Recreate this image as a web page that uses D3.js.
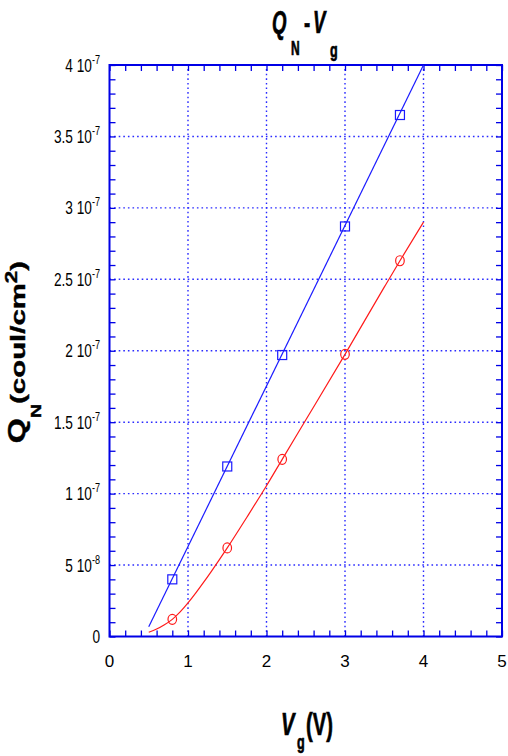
<!DOCTYPE html>
<html>
<head>
<meta charset="utf-8">
<script src="https://cdn.jsdelivr.net/npm/d3@7"></script>
<style>
  body { margin: 0; background: #fff; }
  svg { display: block; }
</style>
</head>
<body>
<script>
// Gate voltage of the measured points (V)
const vg = [0.8, 1.5, 2.2, 3.0, 3.7];
// Inversion charge, measured (coul/cm^2)
const qBlue = [4.0e-8, 1.19e-7, 1.97e-7, 2.87e-7, 3.65e-7];
const qRed  = [1.2e-8, 6.2e-8, 1.24e-7, 1.975e-7, 2.63e-7];

// Model curves
const blueFitV = [0.5, 4.0];
const blueFitQ = [0.68e-8, 4.0e-7];
const redFitV = [0.5, 0.6, 0.7, 0.8, 0.9, 1.0, 1.1, 1.2, 1.3, 1.4, 1.5, 1.75, 2.0, 2.2, 2.5, 3.0, 3.5, 3.7, 4.0];
const redFitQ = [0.030e-7, 0.052e-7, 0.082e-7, 0.120e-7, 0.172e-7, 0.235e-7, 0.305e-7, 0.380e-7, 0.458e-7,
                 0.538e-7, 0.620e-7, 0.835e-7, 1.055e-7, 1.240e-7, 1.515e-7, 1.975e-7, 2.445e-7, 2.630e-7, 2.900e-7];

// Axis ticks and labels
const xMajor = [0, 1, 2, 3, 4, 5];
const xTickLabels = ["0", "1", "2", "3", "4", "5"];
const yMajor = [0, 5e-8, 1e-7, 1.5e-7, 2e-7, 2.5e-7, 3e-7, 3.5e-7, 4e-7];
const yTickMantissa = ["0", "5 10", "1 10", "1.5 10", "2 10", "2.5 10", "3 10", "3.5 10", "4 10"];
const yTickExponent = ["", "-8", "-7", "-7", "-7", "-7", "-7", "-7", "-7"];

const W = 508, H = 756;
const AXIS = "#0000e6";
const FONT = "'Liberation Sans', Arial, Helvetica, sans-serif";

const svg = d3.select("body").append("svg")
  .attr("width", W).attr("height", H)
  .style("font-family", FONT);

const x = d3.scaleLinear().domain([0, 5]).range([109.5, 502]);
const y = d3.scaleLinear().domain([0, 4e-7]).range([636.5, 65]);

const xMinor = d3.range(0, 5.0001, 0.2);
const yMinor = d3.range(0, 40.001, 1).map(d => d * 1e-8);

// dotted grid at the major ticks
const grid = svg.append("g")
  .attr("stroke", "#2a2aff").attr("stroke-width", 1.4)
  .attr("stroke-dasharray", "1.6,3");
grid.selectAll("line.gx").data(xMajor.slice(1, -1)).join("line")
  .attr("x1", d => x(d)).attr("x2", d => x(d))
  .attr("y1", y(0)).attr("y2", y(4e-7));
grid.selectAll("line.gy").data(yMajor.slice(1, -1)).join("line")
  .attr("x1", x(0)).attr("x2", x(5))
  .attr("y1", d => y(d)).attr("y2", d => y(d));

// inward ticks on all four sides
function styleAxis(g) {
  g.select(".domain").remove();
  g.selectAll(".tick line").attr("stroke", AXIS).attr("stroke-width", 1.3);
  g.selectAll(".tick text").remove();
}
svg.append("g").attr("transform", `translate(0,${y(0)})`)
  .call(d3.axisBottom(x).tickValues(xMinor).tickSize(-6)).call(styleAxis);
svg.append("g").attr("transform", `translate(0,${y(4e-7)})`)
  .call(d3.axisTop(x).tickValues(xMinor).tickSize(-6)).call(styleAxis);
svg.append("g").attr("transform", `translate(${x(0)},0)`)
  .call(d3.axisLeft(y).tickValues(yMinor).tickSize(-6)).call(styleAxis);
svg.append("g").attr("transform", `translate(${x(5)},0)`)
  .call(d3.axisRight(y).tickValues(yMinor).tickSize(-6)).call(styleAxis);

// frame
svg.append("rect")
  .attr("x", x(0)).attr("y", y(4e-7))
  .attr("width", x(5) - x(0)).attr("height", y(0) - y(4e-7))
  .attr("fill", "none").attr("stroke", AXIS).attr("stroke-width", 2);

// curves
const line = d3.line().x(d => x(d[0])).y(d => y(d[1]));
svg.append("path")
  .datum(blueFitV.map((v, i) => [v, blueFitQ[i]]))
  .attr("d", line).attr("fill", "none").attr("stroke", "#1a1aff").attr("stroke-width", 1.2);
svg.append("path")
  .datum(redFitV.map((v, i) => [v, redFitQ[i]]))
  .attr("d", line.curve(d3.curveMonotoneX)).attr("fill", "none").attr("stroke", "#ff1a1a").attr("stroke-width", 1.2);

// markers
svg.selectAll("rect.sq").data(vg).join("rect").attr("class", "sq")
  .attr("x", (d) => x(d) - 4.5).attr("y", (d, i) => y(qBlue[i]) - 4.5)
  .attr("width", 9).attr("height", 9)
  .attr("fill", "none").attr("stroke", "#1a1aff").attr("stroke-width", 1.2);
svg.selectAll("ellipse.ci").data(vg).join("ellipse").attr("class", "ci")
  .attr("cx", d => x(d)).attr("cy", (d, i) => y(qRed[i]))
  .attr("rx", 4.3).attr("ry", 5)
  .attr("fill", "none").attr("stroke", "#ff1a1a").attr("stroke-width", 1.2);

// x tick labels
svg.selectAll("text.xl").data(xMajor).join("text")
  .attr("x", d => x(d)).attr("y", 667)
  .attr("text-anchor", "middle").attr("font-size", 17)
  .text((d, i) => xTickLabels[i]);

// y tick labels, condensed, with exponent
const yl = svg.selectAll("g.yl").data(yMajor).join("g")
  .attr("transform", d => `translate(100,${y(d) + 6.5}) scale(0.76,1)`);
const ylt = yl.append("text").attr("text-anchor", "end").attr("font-size", 18);
ylt.append("tspan").text((d, i) => yTickMantissa[i]);
ylt.append("tspan").attr("dy", -8).attr("font-size", 12).text((d, i) => yTickExponent[i]);

// condensed bold text piece
function piece(str, px, py, size, italic, sx) {
  svg.append("text")
    .attr("transform", `translate(${px},${py}) scale(${sx},1)`)
    .attr("font-size", size).attr("font-weight", "bold")
    .attr("font-style", italic ? "italic" : "normal")
    .attr("stroke", "#000").attr("stroke-width", 0.7)
    .text(str);
}

// title
piece("Q", 272, 33, 31, true, 0.6);
piece("N", 291, 55, 20, false, 0.6);
piece("-", 304, 33, 31, false, 0.6);
piece("V", 313, 33, 31, true, 0.6);
piece("g", 330, 57, 21, false, 0.6);

// x axis title
piece("V", 281, 735, 32, true, 0.63);
piece("g", 297, 749, 20, false, 0.63);
piece("(V)", 306, 735, 32, false, 0.63);

// y axis title
const yt = svg.append("text")
  .attr("transform", "translate(25,352) rotate(-90) scale(1.4,1)")
  .attr("text-anchor", "middle").attr("font-weight", "bold").attr("font-size", 21)
  .attr("stroke", "#000").attr("stroke-width", 0.4);
yt.append("tspan").attr("font-size", 23).text("Q");
yt.append("tspan").attr("font-size", 14).attr("dy", 16).text("N");
yt.append("tspan").attr("dy", -16).text("(coul/cm");
yt.append("tspan").attr("font-size", 16).attr("dy", -8).text("2");
yt.append("tspan").attr("dy", 8).text(")");
</script>
</body>
</html>
